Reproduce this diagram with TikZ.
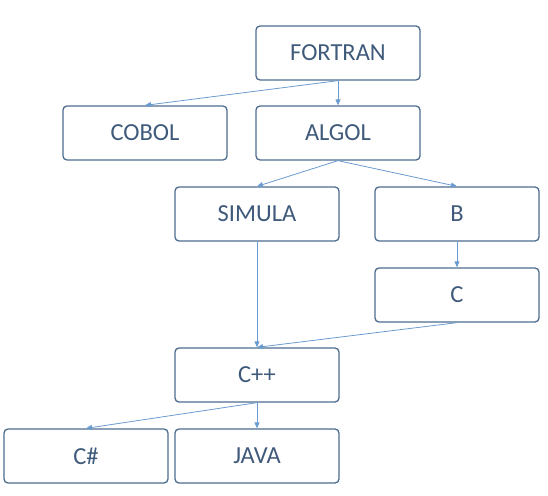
\documentclass[tikz,border=0pt]{standalone}
\usepackage{fontspec}
\setmainfont{Carlito}
\usetikzlibrary{arrows.meta}
\definecolor{boxline}{HTML}{4D6D90}
\definecolor{boxtext}{HTML}{3F5A7A}
\definecolor{arrowc}{HTML}{6A9BD0}
\begin{document}
\begin{tikzpicture}[x=1pt,y=-1pt,
  lang/.style={draw=boxline,line width=1.3pt,rounded corners=4pt,minimum width=164pt,minimum height=54pt,inner sep=0pt,text=boxtext,font=\fontsize{24.5}{28}\selectfont},
  link/.style={draw=arrowc,line width=0.8pt,-{Triangle[length=6pt,width=5pt]}}]
\useasboundingbox (0,0) rectangle (548,495);
\node[lang] (fortran) at (338,53) {FORTRAN};
\node[lang] (cobol) at (145,133) {COBOL};
\node[lang] (algol) at (338,133) {ALGOL};
\node[lang] (simula) at (257,214) {SIMULA};
\node[lang] (b) at (457,214) {B};
\node[lang] (c) at (457,295) {C};
\node[lang] (cpp) at (257,375) {C++};
\node[lang] (cs) at (86,456) {C\#};
\node[lang] (java) at (257,456) {JAVA};
\draw[link] (fortran.south) -- (cobol.north);
\draw[link] (fortran.south) -- (algol.north);
\draw[link] (algol.south) -- (simula.north);
\draw[link] (algol.south) -- (b.north);
\draw[link] (b.south) -- (c.north);
\draw[link] (simula.south) -- (cpp.north);
\draw[link] (c.south) -- (cpp.north);
\draw[link] (cpp.south) -- (cs.north);
\draw[link] (cpp.south) -- (java.north);
\end{tikzpicture}
\end{document}
